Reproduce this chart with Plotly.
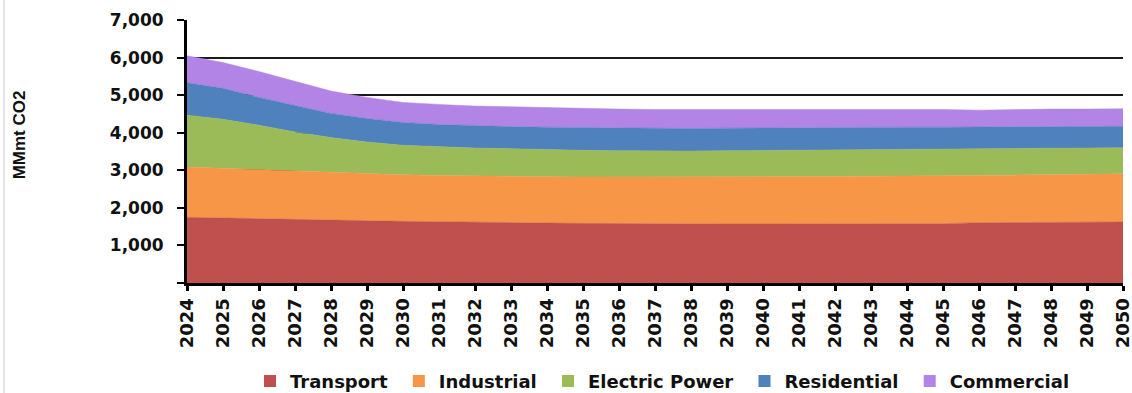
import plotly.graph_objects as go

# Projected CO2 emissions by sector, million metric tons
years = list(range(2024, 2051))

transport = [1748, 1730, 1703, 1676, 1676, 1659, 1641, 1632, 1614, 1605,
             1596, 1587, 1578, 1569, 1569, 1569, 1569, 1569, 1569, 1578,
             1578, 1578, 1605, 1605, 1605, 1614, 1623]
industrial = [1337, 1320, 1311, 1302, 1258, 1248, 1239, 1230, 1230, 1231,
              1231, 1231, 1240, 1249, 1249, 1249, 1249, 1258, 1267, 1266,
              1266, 1275, 1257, 1266, 1275, 1275, 1284]
electric_power = [1382, 1310, 1186, 1043, 936, 847, 785, 758, 749, 740,
                  722, 713, 704, 695, 695, 704, 713, 713, 713, 705,
                  714, 705, 705, 705, 705, 704, 695]
residential = [865, 821, 740, 714, 642, 624, 606, 598, 589, 588,
               597, 606, 606, 598, 598, 598, 597, 597, 597, 597,
               588, 588, 588, 579, 570, 571, 571]
commercial = [714, 686, 686, 624, 597, 562, 535, 535, 526, 526,
              517, 500, 500, 508, 508, 508, 509, 500, 491, 482,
              482, 473, 446, 464, 473, 464, 464]

sector_names = ["Transport", "Industrial", "Electric Power", "Residential", "Commercial"]
sector_values = [transport, industrial, electric_power, residential, commercial]
sector_colors = ["#C0504D", "#F79646", "#9BBB59", "#4F81BD", "#B284E6"]

y_ticks = [0, 1000, 2000, 3000, 4000, 5000, 6000, 7000]
y_labels = ["" if v == 0 else f"{v:,}" for v in y_ticks]

TICK_FONT = dict(family="DejaVu Sans", size=17, color="#111111", weight="bold")

fig = go.Figure()

for name, vals, color in zip(sector_names, sector_values, sector_colors):
    fig.add_trace(go.Scatter(
        x=years, y=vals, name=name, stackgroup="co2",
        mode="lines", line=dict(width=0.5, color=color),
        fillcolor=color, showlegend=False, hoverinfo="x+y+name",
    ))

# square swatches for the legend; a trailing no-break space widens the gaps
for i, (name, color) in enumerate(zip(sector_names, sector_colors)):
    label = name if i == len(sector_names) - 1 else name + "\u00a0"
    fig.add_trace(go.Scatter(
        x=[None], y=[None], name=label, mode="markers",
        marker=dict(symbol="square", size=12, color=color),
        showlegend=True,
    ))

fig.update_xaxes(
    range=[years[0], years[-1]],
    tickmode="array", tickvals=years, ticktext=[str(y) for y in years],
    tickangle=-90, tickfont=dict(family="DejaVu Sans", size=18, color="#111111", weight="bold"),
    ticks="outside", ticklen=5, tickwidth=3, tickcolor="#000000",
    ticklabeloverflow="allow",
    showline=True, linewidth=3, linecolor="#000000",
    showgrid=False, zeroline=False, automargin=False,
)
fig.update_yaxes(
    range=[0, 7000],
    tickmode="array", tickvals=y_ticks, ticktext=y_labels,
    tickfont=TICK_FONT,
    ticks="outside", ticklen=7, tickwidth=2, tickcolor="#000000",
    ticklabelstandoff=10,
    showline=True, linewidth=3, linecolor="#000000",
    showgrid=True, gridcolor="#1a1a1a", gridwidth=2,
    zeroline=False, automargin=False,
)

fig.add_annotation(
    text="MMmt CO2", textangle=-90,
    xref="paper", yref="paper", x=-0.178, y=0.563,
    xanchor="center", yanchor="middle", showarrow=False,
    font=dict(family="Liberation Sans", size=17, color="#111111", weight="bold"),
)

# thin frame line on the far left edge
fig.add_shape(
    type="line", xref="paper", yref="paper",
    x0=-0.1955, x1=-0.1955, y0=-0.5, y1=1.2,
    line=dict(color="#d9d9d9", width=1.5),
)

fig.update_layout(
    width=1132, height=393,
    margin=dict(l=187, r=9, t=20, b=110, autoexpand=False),
    paper_bgcolor="#ffffff", plot_bgcolor="#ffffff",
    showlegend=True,
    legend=dict(
        orientation="h", traceorder="normal",
        x=0.508, xanchor="center",
        yref="container", y=0.03, yanchor="middle",
        font=dict(family="DejaVu Sans", size=18, color="#111111", weight="bold"),
        bgcolor="rgba(0,0,0,0)",
    ),
)

fig.write_html("out.html")
